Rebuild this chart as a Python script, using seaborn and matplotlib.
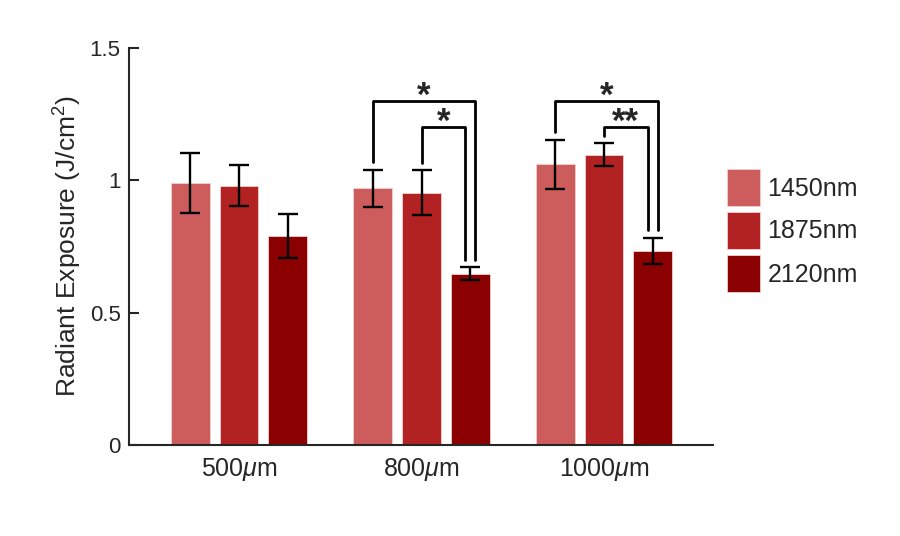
import pandas as pd
import seaborn as sns
import matplotlib.pyplot as plt

# values
thickness = ['500$\\mu$m', '800$\\mu$m', '1000$\\mu$m']
wavelengths = ['1450nm', '1875nm', '2120nm']
mean_1450 = [0.99, 0.97, 1.06]
mean_1875 = [0.98, 0.953, 1.097]
mean_2120 = [0.79, 0.647, 0.733]
err_1450 = [0.115, 0.07, 0.094]
err_1875 = [0.078, 0.085, 0.044]
err_2120 = [0.084, 0.025, 0.05]
colors = ['#CD5C5C', '#B22222', '#8B0000']

# significance brackets: (group, first bar, second bar, label, tier)
sig_pairs = [(1, 0, 2, '*', 1), (1, 1, 2, '*', 0),
             (2, 0, 2, '*', 1), (2, 1, 2, '**', 0)]
tier_height = [1.2, 1.3]

df = pd.DataFrame({
    'thickness': thickness * 3,
    'wavelength': [w for w in wavelengths for _ in thickness],
    'value': mean_1450 + mean_1875 + mean_2120,
})
errs = [err_1450, err_1875, err_2120]

sns.set_style('ticks')
plt.rcParams['font.family'] = ['Liberation Sans', 'DejaVu Sans']
plt.rcParams['mathtext.fontset'] = 'custom'
plt.rcParams['mathtext.rm'] = 'Liberation Sans'
plt.rcParams['mathtext.it'] = 'Liberation Sans:italic'

fig = plt.figure(figsize=(9, 5.36), dpi=100)
ax = fig.add_axes([0.1433, 0.1698, 0.6489, 0.7406])

sns.barplot(data=df, x='thickness', y='value', hue='wavelength',
            palette=colors, errorbar=None, gap=0.2, width=0.8,
            edgecolor='#f3d0d0', linewidth=0.6, saturation=1, ax=ax)

# error bars on top of each bar
centers = []
tops = []
for cont, e in zip(ax.containers, errs):
    xs = [p.get_x() + p.get_width() / 2 for p in cont.patches]
    ys = [p.get_height() for p in cont.patches]
    ax.errorbar(xs, ys, yerr=e, fmt='none', ecolor='black',
                elinewidth=1.7, capsize=7.2, capthick=1.7, zorder=5)
    centers.append(xs)
    tops.append([y + ee for y, ee in zip(ys, e)])

# significance brackets
for g, a, b, label, tier in sig_pairs:
    h = tier_height[tier]
    xa = centers[a][g]
    xb = centers[b][g] + (0.027 if tier == 1 else -0.027)
    ya = tops[a][g] + 0.028
    yb = tops[b][g] + 0.028
    ax.plot([xa, xa, xb, xb], [ya, h, h, yb], color='black', lw=2,
            zorder=6, clip_on=False)
    ax.text((xa + xb) / 2, h + 0.018, label, ha='center', va='center',
            fontsize=25, fontweight='bold')

ax.set_ylim(0, 1.5)
ax.set_xlim(-0.603, 2.597)
ax.set_yticks([0, 0.5, 1, 1.5])
ax.set_yticklabels(['0', '0.5', '1', '1.5'])
ax.set_xlabel('')
ax.set_ylabel('Radiant Exposure (J/cm$^2$)', fontsize=19, labelpad=4)
ax.tick_params(axis='y', direction='in', length=7, width=1.5,
               labelsize=16, colors='#262626', pad=6)
ax.tick_params(axis='x', length=0, labelsize=18, colors='#262626', pad=8)
sns.despine(ax=ax)
for s in ['left', 'bottom']:
    ax.spines[s].set_linewidth(1.5)
    ax.spines[s].set_color('#262626')

ax.legend(loc='upper left', bbox_to_anchor=(727 / 900, 1 - 169 / 536),
          bbox_transform=fig.transFigure, frameon=False, fontsize=18,
          handlelength=1.32, handleheight=1.9, labelspacing=0.24,
          handletextpad=0.3, borderpad=0, borderaxespad=0, title=None)

fig.savefig('out.png', dpi=100)
